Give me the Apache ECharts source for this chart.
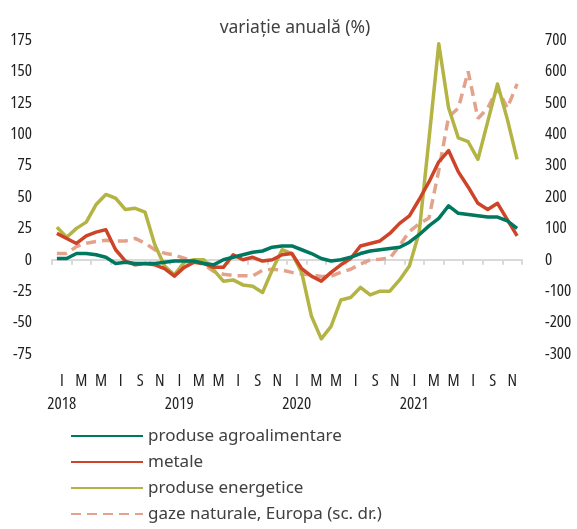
<!DOCTYPE html>
<html>
<head>
<meta charset="utf-8">
<script src="https://cdn.jsdelivr.net/npm/echarts@6/dist/echarts.min.js"></script>
<style>html,body{margin:0;padding:0;background:#fff}#c{width:577px;height:529px}</style>
</head>
<body>
<div id="c"></div>
<script>
var years = ['2018', '2019', '2020', '2021'];
var tickLabels = ['I','M','M','I','S','N','I','M','M','I','S','N','I','M','M','I','S','N','I','M','M','I','S','N'];
var seriesNames = ['produse agroalimentare', 'metale', 'produse energetice', 'gaze naturale, Europa (sc. dr.)'];

var agro = [1,1,5,5,4,2,-3,-2,-3,-3,-3,-2,
            -1,-1,-1,-3,-4,0,2,4,6,7,10,11,
            11,8,5,1,-1,0,2,5,7,8,9,10,
            14,20,27,33,43,37,36,35,34,34,31,25];
var metale = [21,17,13,19,22,24,8,-1,-4,-3,-4,-7,
              -13,-6,-2,-3,-6,-6,4,0,2,-1,0,4,
              5,-7,-13,-17,-10,-4,1,11,13,15,21,29,
              35,48,62,78,87,70,58,45,40,45,32,19];
var energetice = [26,18,25,30,44,52,49,40,41,38,12,-5,
                  -12,-2,0,0,-8,-17,-16,-20,-21,-26,-8,8,
                  5,-10,-45,-63,-53,-32,-30,-22,-28,-25,-25,-16,
                  -5,22,96,172,121,97,94,80,110,140,112,80];
var gaze = [20,20,42,53,58,62,60,60,68,53,32,21,
            15,5,-5,-15,-37,-46,-50,-51,-51,-33,-30,-33,
            -40,-45,-48,-53,-52,-40,-30,-14,0,2,5,45,
            90,115,133,285,455,483,600,450,483,545,483,560];

var months = [];
years.forEach(function (y) { for (var m = 1; m <= 12; m++) months.push(y + '-' + (m < 10 ? '0' + m : m)); });

var colors = ['#00775F', '#CD4428', '#B4B444', '#E3A28C'];
var textFont = '"Noto Sans", "Open Sans", sans-serif';
var axisFont = '"Open Sans", sans-serif';
var axisWeight = '500 condensed';

var chart = echarts.init(document.getElementById('c'), null, {renderer: 'canvas'});
chart.setOption({
  animation: false,
  backgroundColor: '#fff',
  title: {
    text: 'variație anuală (%)',
    left: 290, textAlign: 'center', top: 14,
    textStyle: {fontFamily: textFont, fontSize: 17.5, fontWeight: 'normal', color: '#404040'}
  },
  legend: {
    orient: 'vertical', left: 70, top: 427, padding: 0,
    itemWidth: 72, itemHeight: 18, itemGap: 8,
    itemStyle: {opacity: 0},
    data: seriesNames,
    textStyle: {fontFamily: textFont, fontSize: 17, color: '#404040', lineHeight: 18}
  },
  grid: {left: 52, right: 55, top: 40, bottom: 175, containLabel: false},
  xAxis: [
    {type: 'category', data: months, boundaryGap: true, show: false, axisLine: {onZero: false}},
    {type: 'category', data: tickLabels, boundaryGap: true, position: 'bottom',
     axisLine: {show: true, onZero: true, lineStyle: {color: '#d9d9d9', width: 2}},
     axisTick: {show: true, length: 5, lineStyle: {color: '#d9d9d9', width: 2}},
     axisLabel: {
       margin: 16, interval: 0,
       fontFamily: axisFont, fontWeight: axisWeight, fontSize: 17, color: '#222',
       formatter: function (v, i) {
         if (i % 6 === 0) return '{a|' + v + '}\n{b|' + years[i / 6] + '}';
         return '{a|' + v + '}';
       },
       rich: {
         a: {fontFamily: axisFont, fontWeight: axisWeight, fontSize: 17, color: '#222', lineHeight: 23},
         b: {fontFamily: axisFont, fontWeight: axisWeight, fontSize: 17, color: '#222', lineHeight: 23}
       }
     },
     splitLine: {show: false}}
  ],
  yAxis: [
    {type: 'value', min: -75, max: 175, interval: 25, position: 'left',
     axisLine: {show: false}, axisTick: {show: false}, splitLine: {show: false},
     axisLabel: {margin: 20, fontFamily: axisFont, fontWeight: axisWeight, fontSize: 17, color: '#222'}},
    {type: 'value', min: -300, max: 700, interval: 100, position: 'right',
     axisLine: {show: false}, axisTick: {show: false}, splitLine: {show: false},
     axisLabel: {margin: 23, fontFamily: axisFont, fontWeight: axisWeight, fontSize: 17, color: '#222'}}
  ],
  series: [
    {name: seriesNames[0], type: 'line', data: agro, xAxisIndex: 0, yAxisIndex: 0, symbol: 'none',
     color: colors[0], lineStyle: {color: colors[0], width: 3.5, join: 'round'}, z: 5},
    {name: seriesNames[1], type: 'line', data: metale, xAxisIndex: 0, yAxisIndex: 0, symbol: 'none',
     color: colors[1], lineStyle: {color: colors[1], width: 3.5, join: 'round'}, z: 4},
    {name: seriesNames[2], type: 'line', data: energetice, xAxisIndex: 0, yAxisIndex: 0, symbol: 'none',
     color: colors[2], lineStyle: {color: colors[2], width: 3.5, join: 'round'}, z: 3},
    {name: seriesNames[3], type: 'line', data: gaze, xAxisIndex: 0, yAxisIndex: 1, symbol: 'none',
     color: colors[3], lineStyle: {color: colors[3], width: 3.5, type: [10, 6]}, z: 2}
  ]
});
</script>
</body>
</html>
